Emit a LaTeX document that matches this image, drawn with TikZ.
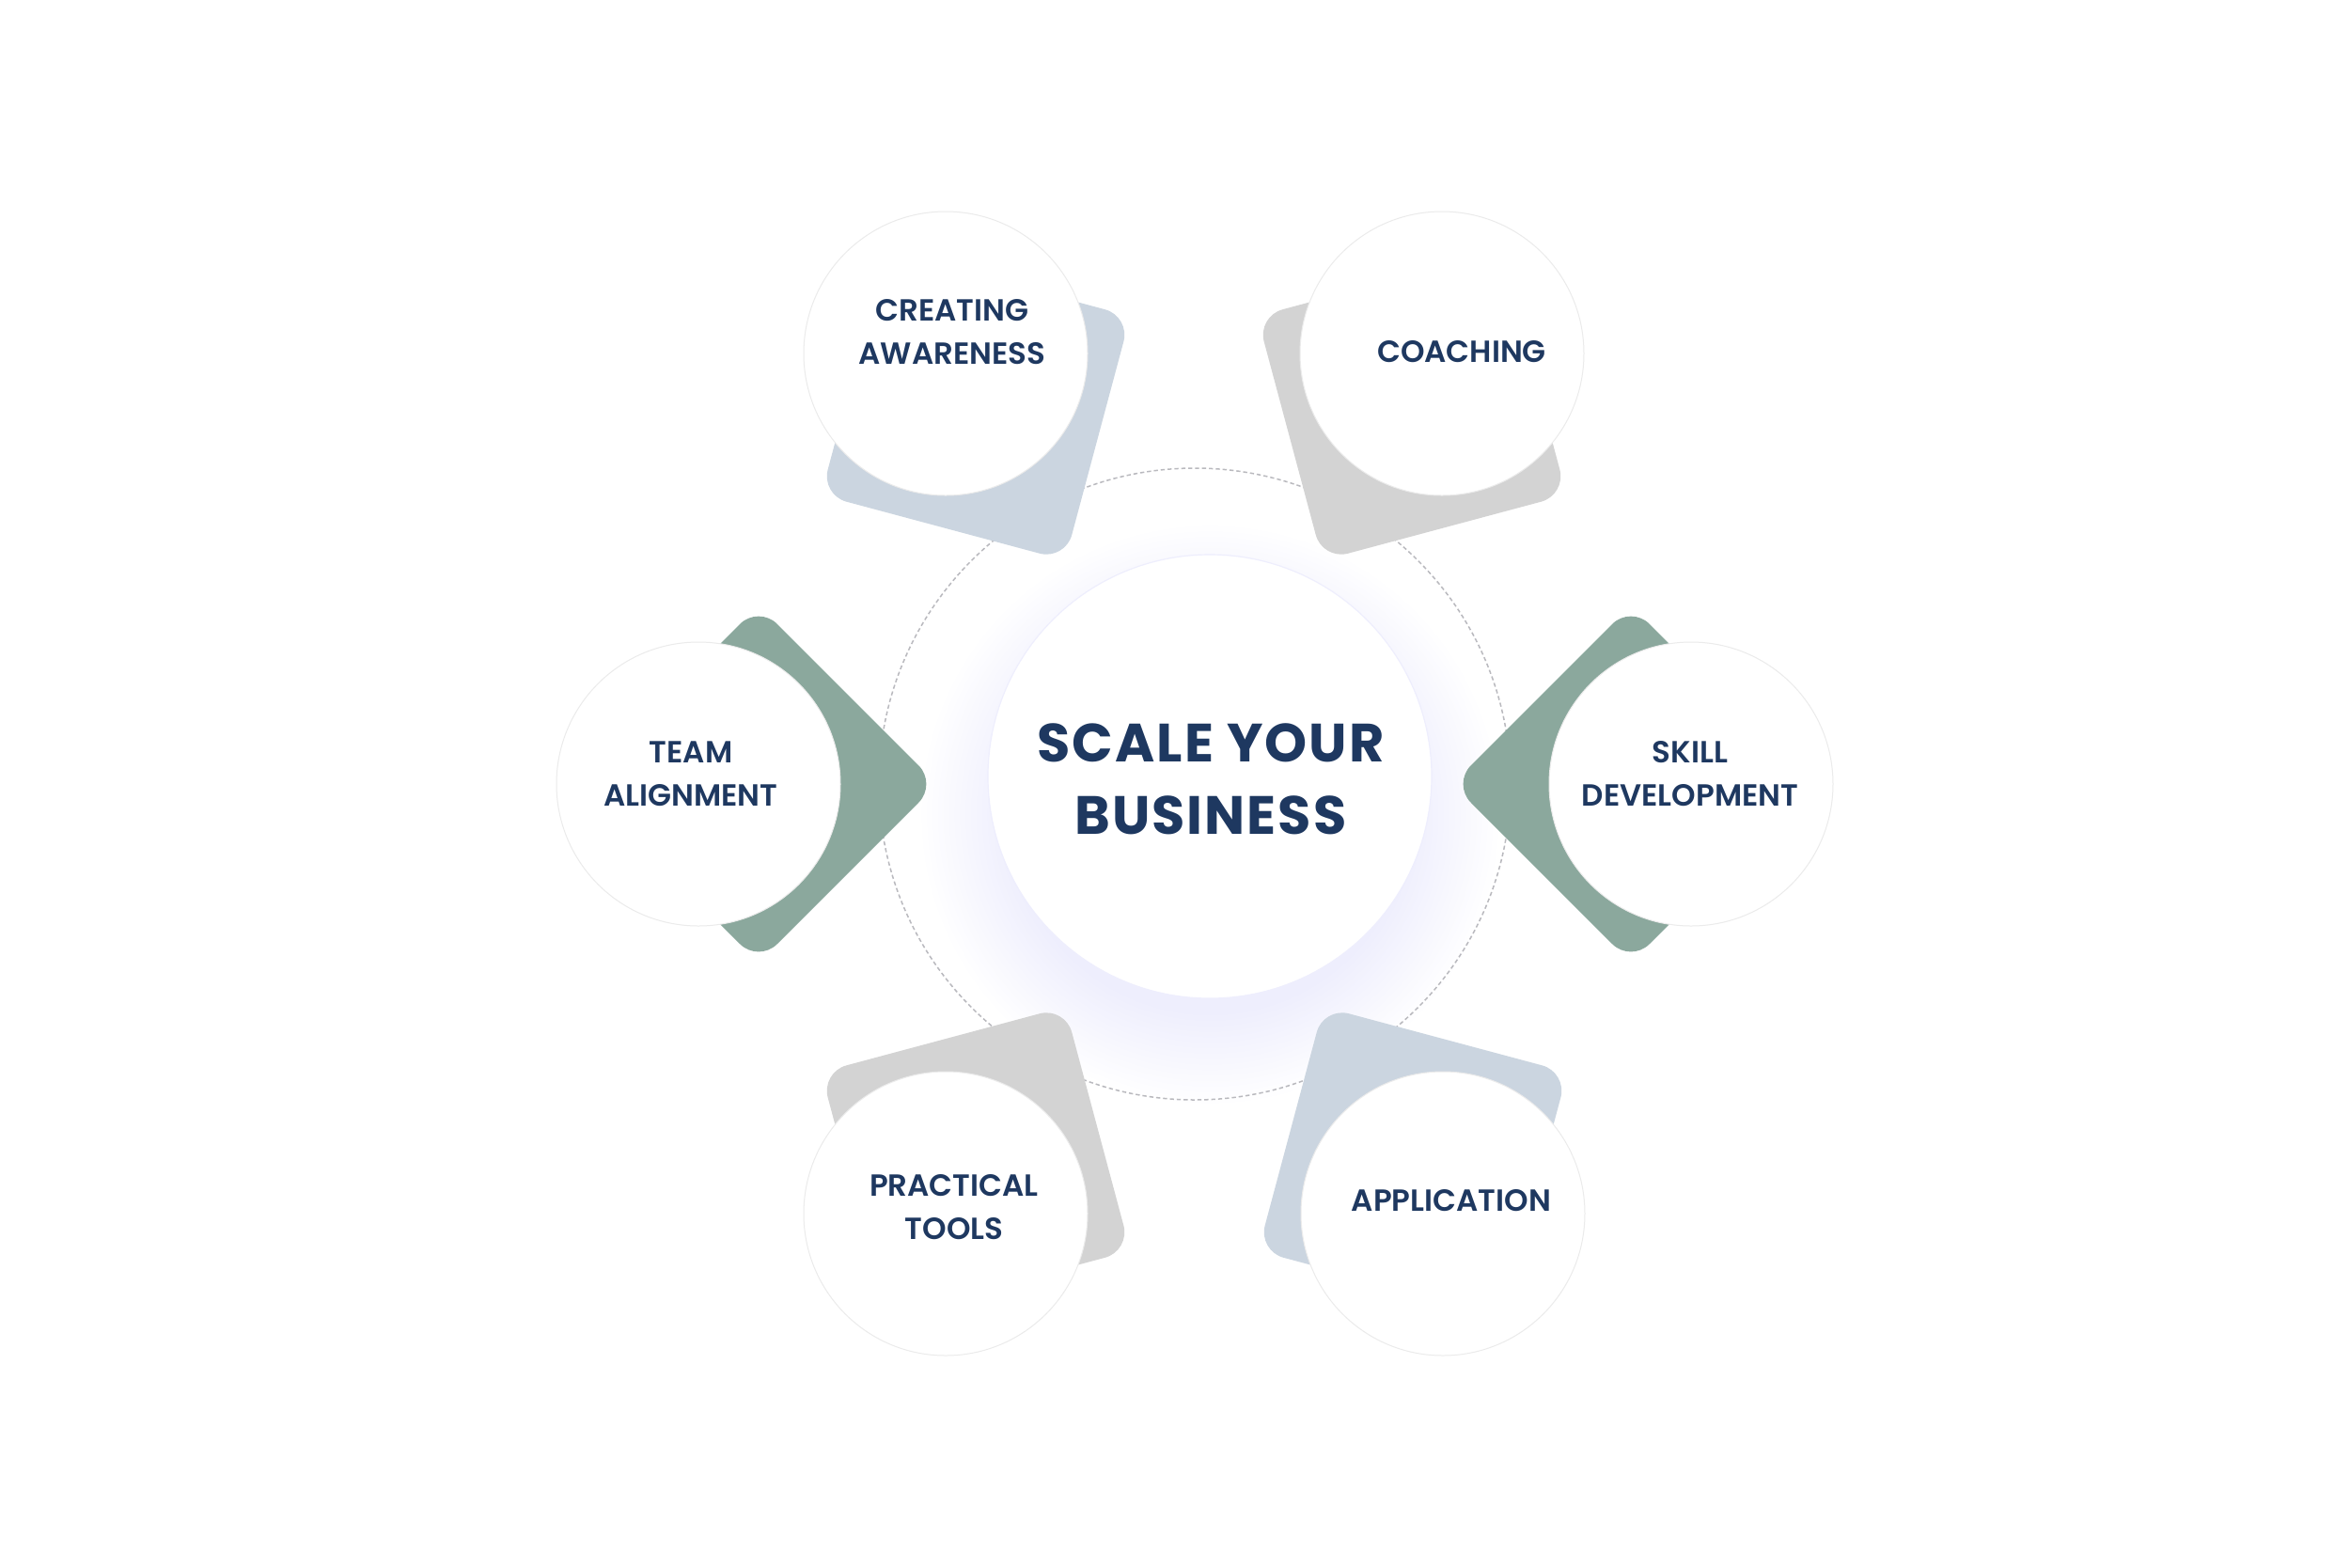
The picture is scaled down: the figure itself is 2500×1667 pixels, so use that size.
\documentclass[tikz,border=0pt]{standalone}
\usepackage{fontspec}
\setmainfont{Poppins}
\newfontfamily\popsemi{Poppins}[UprightFont=* SemiBold]
\newfontfamily\popbold{Poppins}[UprightFont=* Bold, LetterSpace=3.5]
\usetikzlibrary{calc}
\definecolor{navy}{RGB}{30,56,96}
\definecolor{sqblue}{RGB}{203,213,224}
\definecolor{sqgray}{RGB}{211,211,211}
\definecolor{sqgreen}{RGB}{139,168,157}
\definecolor{glowc}{RGB}{238,238,253}
\definecolor{ringc}{RGB}{185,185,190}
\pgfdeclareradialshading{glowshade}{\pgfpoint{0bp}{0bp}}{color(0bp)=(glowc);color(17bp)=(glowc);color(25bp)=(white);color(50bp)=(white)}
\newcommand{\mysq}[3]{%
  \fill[#3, rounded corners=8.4pt]
    ($(#1)+(#2:64)+(#2+45:134.35)$) --
    ($(#1)+(#2:64)+(#2+90:190)$) --
    ($(#1)+(#2:64)+(#2+180:190)$) --
    ($(#1)+(#2:64)+(#2+270:190)$) --
    ($(#1)+(#2:64)+(#2:190)$) -- cycle;}
\tikzset{
  satcircle/.style={fill=white, draw=black!8, line width=0.3pt},
  satlabel/.style={text=navy, align=center, inner sep=0pt,
    font=\popsemi\fontsize{9.75}{13.8}\selectfont},
  mainlabel/.style={text=navy, align=center, inner sep=0pt,
    font=\popbold\fontsize{17.2}{23.1}\selectfont},
  ring/.style={draw=ringc, line width=0.45pt, dash pattern=on 1.3pt off 0.9pt},
}
\begin{document}
\begin{tikzpicture}[x=0.3pt,y=-0.3pt]
\useasboundingbox (0,0) rectangle (2500,1667);
\fill[white] (0,0) rectangle (2500,1667);

% centres
\coordinate (ringc) at (1271,834);
\coordinate (mainc) at (1287,826);
\coordinate (ca) at (1006,376);
\coordinate (co) at (1534,376);
\coordinate (ta) at (743,834);
\coordinate (sd) at (1799,834);
\coordinate (pt) at (1006,1291);
\coordinate (ap) at (1535,1291);

% glow
\shade[shading=glowshade] (1287,866) circle (310);

% dashed ring
\draw[ring] (ringc) circle (336);

% rounded squares
\mysq{ca}{60}{sqblue}
\mysq{co}{120}{sqgray}
\mysq{ta}{0}{sqgreen}
\mysq{sd}{180}{sqgreen}
\mysq{pt}{-60}{sqgray}
\mysq{ap}{-120}{sqblue}

% central circle
\draw[fill=white, draw=glowc, line width=0.35pt] (mainc) circle (236);

% satellite circles
\foreach \c in {ca,co,ta,sd,pt,ap}{
  \draw[satcircle] (\c) circle (151);
}

% labels
\node[mainlabel] (main) at (1288,828.5) {SCALE YOUR\\BUSINESS};
\node[satlabel] (lca) at (1013,353) {CREATING\\AWARENESS};
\node[satlabel] (lco) at (1555,374) {COACHING};
\node[satlabel] (lta) at (735,823) {TEAM\\ALIGNMENT};
\node[satlabel] (lsd) at (1798,823) {SKILL\\DEVELOPMENT};
\node[satlabel] (lpt) at (1015,1284) {PRACTICAL\\TOOLS};
\node[satlabel] (lap) at (1544,1277) {APPLICATION};
\end{tikzpicture}
\end{document}
